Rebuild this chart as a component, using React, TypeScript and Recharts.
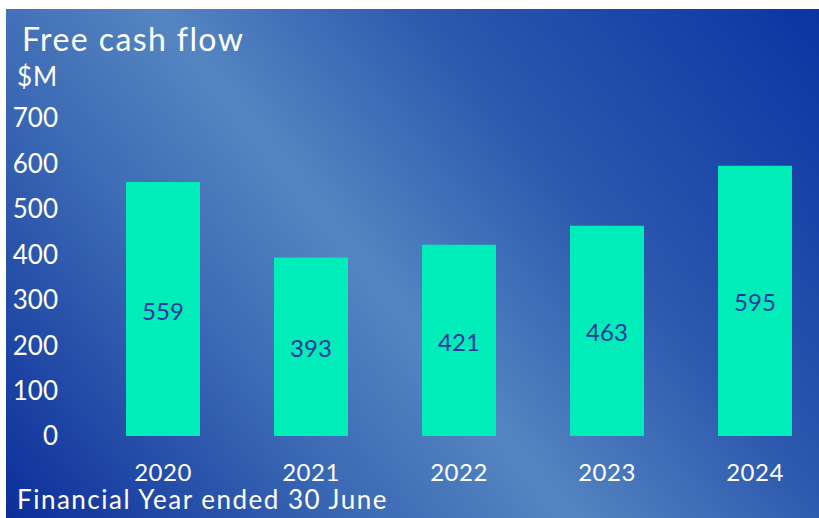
import { BarChart, Bar, XAxis, YAxis, LabelList } from 'recharts'

const years = ['2020', '2021', '2022', '2023', '2024']
const freeCashFlow = [559, 393, 421, 463, 595]
const yTicks = [0, 100, 200, 300, 400, 500, 600, 700]

const data = years.map((year, i) => ({ year, value: freeCashFlow[i] }))

const FONT = 'Lato, "Open Sans", sans-serif'

function YTick({ y, payload }: any) {
  return (
    <text x={58} y={y} dy="0.36em" textAnchor="end" fill="#ffffff" fontSize={26} fontFamily={FONT}>
      {payload.value}
    </text>
  )
}

function XTick({ x, y, payload }: any) {
  return (
    <text x={x} y={y} dy={37} textAnchor="middle" fill="#ffffff" fontSize={24} fontFamily={FONT} letterSpacing={0.5}>
      {payload.value}
    </text>
  )
}

export default function App() {
  return (
    <div style={{ position: 'fixed', left: 0, top: 0, width: 819, height: 518, overflow: 'hidden', background: '#fff' }}>
      <div
        style={{
          position: 'absolute',
          left: 6,
          top: 9,
          width: 813,
          height: 509,
          background:
            'linear-gradient(51deg, #0b2e9a 0%, #3d6bb5 30%, #5585c1 46%, #2c58ae 68%, #0a35a3 100%)',
        }}
      />
      <div style={{ position: 'absolute', left: 0, top: 0 }}>
        <BarChart
          width={840}
          height={518}
          data={data}
          margin={{ top: 118, right: 11, bottom: 0, left: 0 }}
          barSize={74}
        >
          <XAxis
            dataKey="year"
            axisLine={false}
            tickLine={false}
            height={82}
            tick={<XTick />}
            interval={0}
          />
          <YAxis
            width={89}
            domain={[0, 700]}
            ticks={yTicks}
            axisLine={false}
            tickLine={false}
            tick={<YTick />}
            interval={0}
          />
          <Bar dataKey="value" fill="#00ecb8" isAnimationActive={false}>
            <LabelList
              dataKey="value"
              position="center"
              fill="#24399c"
              fontSize={24}
              fontFamily={FONT}
              offset={0}
              dy={2}
            />
          </Bar>
        </BarChart>
      </div>
      <svg width={819} height={518} style={{ position: 'absolute', left: 0, top: 0, pointerEvents: 'none' }}>
        <text x={22} y={51} fill="#ffffff" fontSize={32} fontFamily={FONT} letterSpacing={1.4}>
          Free cash flow
        </text>
        <text x={17} y={86} fill="#ffffff" fontSize={26} fontFamily={FONT} letterSpacing={1}>
          $M
        </text>
        <text x={17} y={509} fill="#ffffff" fontSize={26} fontFamily={FONT} letterSpacing={1.5}>
          Financial Year ended 30 June
        </text>
      </svg>
    </div>
  )
}
